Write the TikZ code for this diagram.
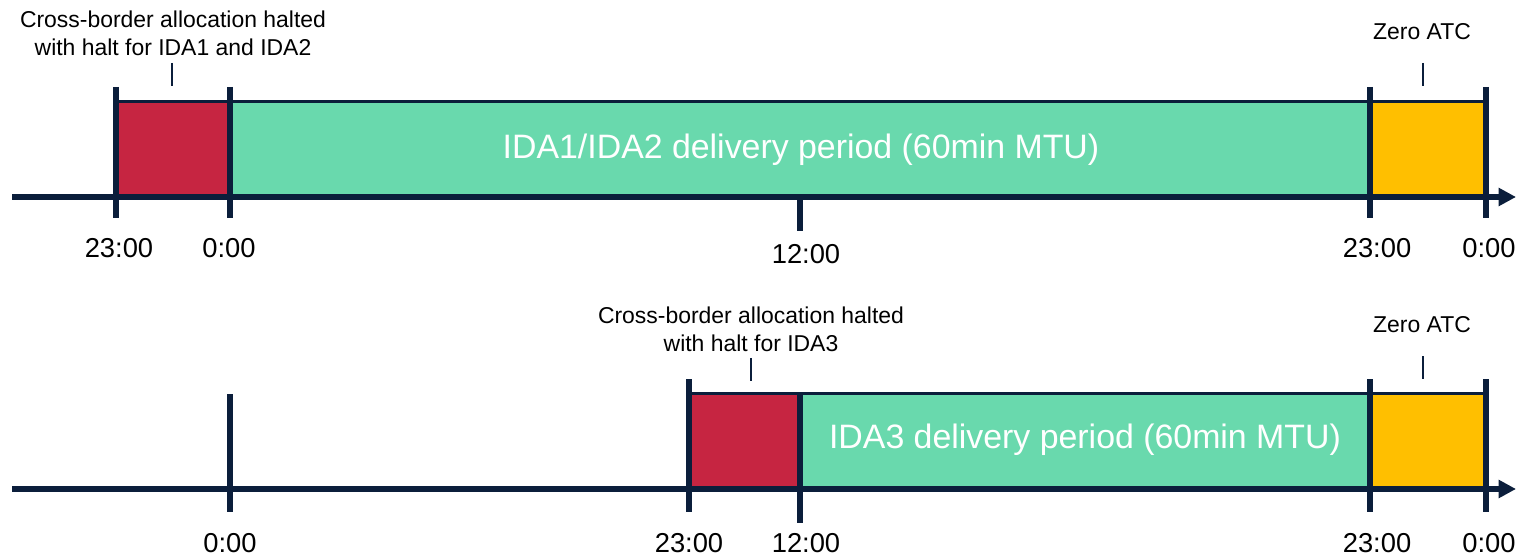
\documentclass[tikz,border=0pt]{standalone}
\usepackage{fontspec}
\setmainfont{Liberation Sans}
\usetikzlibrary{arrows.meta}
\definecolor{navy}{HTML}{0B1E3B}
\definecolor{haltred}{HTML}{C62541}
\definecolor{delgreen}{HTML}{69D9AD}
\definecolor{atcorange}{HTML}{FFBF00}
\begin{document}
\begin{tikzpicture}[x=0.75pt,y=-0.75pt,
  axisline/.style={draw=navy,line width=3.8pt,-{Triangle[length=13pt,width=13pt]}},
  tickline/.style={draw=navy,line width=4.2pt},
  pbox/.style={draw=navy,line width=2.2pt,inner sep=0pt,anchor=north west},
  labtick/.style={draw=navy,line width=0.9pt},
  note/.style={font=\fontsize{17.2}{21}\selectfont,align=center,text=black},
  timelab/.style={font=\fontsize{20.5}{24}\selectfont,text=black},
  big/.style={font=\fontsize{25.4}{28}\selectfont,text=white}]
\useasboundingbox (0,0) rectangle (1521,556);
% ---------- top timeline ----------
\coordinate (a1s) at (12,197);
\coordinate (a1e) at (1516,197);
\node[pbox,fill=haltred,minimum width=114*0.75pt,minimum height=96*0.75pt] (r1) at (116,100) {};
\node[pbox,fill=delgreen,minimum width=1140*0.75pt,minimum height=96*0.75pt] (g1) at (230,100) {};
\node[pbox,fill=atcorange,minimum width=116*0.75pt,minimum height=96*0.75pt] (o1) at (1370,100) {};
\node[big] (t1) at (801,150) {IDA1/IDA2 delivery period (60min MTU)};
\draw[axisline] (a1s) -- (a1e);
\draw[tickline] (116,87) -- (116,218);
\draw[tickline] (230,87) -- (230,218);
\draw[tickline] (800,197) -- (800,231);
\draw[tickline] (1370,87) -- (1370,218);
\draw[tickline] (1486,87) -- (1486,218);
\node[note] (n1) at (173,33) {Cross-border allocation halted\\with halt for IDA1 and IDA2};
\coordinate (n1a) at (172,63);
\coordinate (n1b) at (172,86);
\draw[labtick] (n1a) -- (n1b);
\node[note] (z1) at (1422,32) {Zero ATC};
\coordinate (z1a) at (1423,63);
\coordinate (z1b) at (1423,86);
\draw[labtick] (z1a) -- (z1b);
\node[timelab] (l1) at (119,248) {23:00};
\node[timelab] (l2) at (229,248) {0:00};
\node[timelab] (l3) at (806,254) {12:00};
\node[timelab] (l4) at (1377,248) {23:00};
\node[timelab] (l5) at (1489,248) {0:00};
% ---------- bottom timeline ----------
\coordinate (a2s) at (12,489);
\coordinate (a2e) at (1516,489);
\node[pbox,fill=haltred,minimum width=111*0.75pt,minimum height=96*0.75pt] (r2) at (689,392) {};
\node[pbox,fill=delgreen,minimum width=570*0.75pt,minimum height=96*0.75pt] (g2) at (800,392) {};
\node[pbox,fill=atcorange,minimum width=116*0.75pt,minimum height=96*0.75pt] (o2) at (1370,392) {};
\node[big] (t2) at (1085,440) {IDA3 delivery period (60min MTU)};
\draw[axisline] (a2s) -- (a2e);
\draw[tickline] (230,394) -- (230,512);
\draw[tickline] (689,379) -- (689,512);
\draw[tickline] (800,392) -- (800,523);
\draw[tickline] (1370,379) -- (1370,512);
\draw[tickline] (1486,379) -- (1486,512);
\node[note] (n2) at (751,329) {Cross-border allocation halted\\with halt for IDA3};
\coordinate (n2a) at (751,358);
\coordinate (n2b) at (751,381);
\draw[labtick] (n2a) -- (n2b);
\node[note] (z2) at (1422,325) {Zero ATC};
\coordinate (z2a) at (1423,356);
\coordinate (z2b) at (1423,379);
\draw[labtick] (z2a) -- (z2b);
\node[timelab] (m1) at (230,543) {0:00};
\node[timelab] (m2) at (689,543) {23:00};
\node[timelab] (m3) at (806,543) {12:00};
\node[timelab] (m4) at (1377,543) {23:00};
\node[timelab] (m5) at (1489,543) {0:00};
\end{tikzpicture}
\end{document}
